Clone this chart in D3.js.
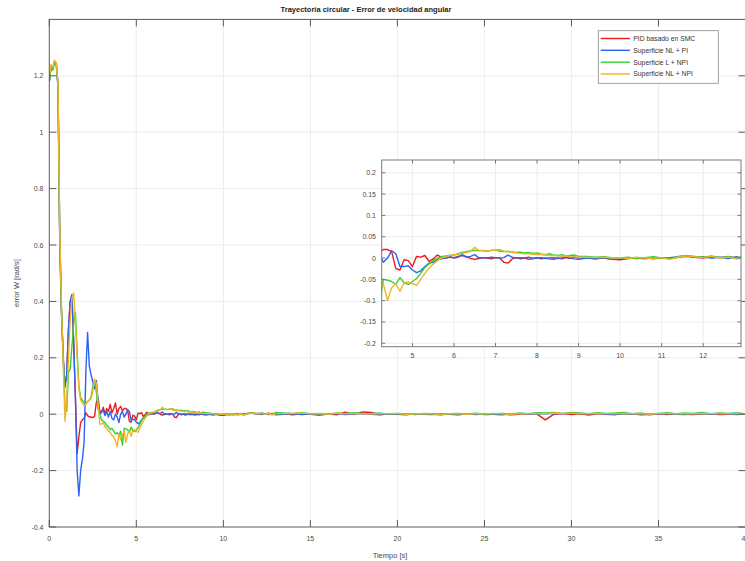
<!DOCTYPE html>
<html><head><meta charset="utf-8">
<script src="https://cdn.jsdelivr.net/npm/d3@7"></script>
<style>body{margin:0;background:#fff;} svg{display:block;font-family:"Liberation Sans",Arial,sans-serif;}</style>
</head><body><svg id="c" width="745" height="561"></svg>
<script>
// ---------- DATA ----------
const seriesNames = ["PID basado en SMC", "Superficie NL + PI", "Superficie L + NPI", "Superficie NL + NPI"];
const seriesColors = ["#ea1c1c", "#2e62f0", "#2fd22f", "#f0b428"];

// sample times (s): 0..4.2 step .1, 4.3..9 step .1, 9.2..13 step .2, 13.5..40 step .5
const time = [].concat(
  d3.range(0, 43).map(i => i / 10),
  d3.range(43, 91).map(i => i / 10),
  d3.range(46, 66).map(i => i / 5),
  d3.range(27, 81).map(i => i / 2)
);

const pidEarly = [1.18,1.23,1.225,1.25,1.245,1.16,0.62,0.36,0.2,0.1,
  0.14,0.3,0.4,0.42,0.25,0.06,-0.14,-0.08,-0.03,-0.02,
  -0.015,0.005,-0.005,-0.01,-0.01,-0.012,-0.008,0.04,0.06,0.01,
  0.005,0.025,0.0,0.02,0.01,0.035,0.005,0.02,0.04,0.0,
  0.02,0.028,0.012];
const pidMid = [0.02,0.02,0.015,-0.025,-0.028,-0.004,-0.006,-0.02,0.004,0.002,
  0.006,-0.008,-0.002,0.007,0.002,0.0,0.002,0.001,0.004,0.006,
  0.003,-0.001,-0.003,-0.001,0.001,0.0,-0.002,0.001,0.0,-0.01,
  -0.012,-0.002,0.001,-0.002,0.0,-0.003,-0.001,0.001,-0.002,0.0,
  -0.002,-0.003,0.0,-0.002,0.001,-0.001,0.002,0.0];
const pidLate = [0.001,-0.002,0.0,-0.003,-0.004,-0.001,0.0,-0.002,0.001,0.0,
  -0.001,0.002,0.004,0.002,0.0,0.003,0.001,0.004,-0.001,0.002];
const pidTail = [0.001,-0.002,0.002,0.0,-0.003,0.001,-0.002,0.007,0.0,0.008,
  0.006,-0.001,0.002,0.0,-0.002,0.001,0.0,-0.001,0.002,0.0,
  -0.002,0.001,0.002,-0.001,0.0,0.001,-0.002,0.0,0.002,0.001,
  -0.02,0.0,0.002,-0.001,0.001,-0.003,0.002,0.0,-0.001,0.002,
  0.001,-0.002,0.0,0.001,-0.001,0.002,0.0,-0.001,0.001,0.002,
  -0.001,0.0,0.002,0.001];

const nlpiEarly = [1.18,1.23,1.225,1.25,1.245,1.16,0.62,0.36,0.2,0.095,
  0.14,0.3,0.4,0.425,0.26,0.06,-0.2,-0.29,-0.2,-0.16,
  -0.1,0.15,0.29,0.17,0.14,0.115,0.09,0.12,0.05,0.0,
  0.012,0.015,-0.005,0.01,-0.01,0.01,-0.015,-0.02,0.0,-0.01,
  -0.03,0.0,0.01];
const nlpiMid = [-0.01,0.0,0.017,0.01,-0.02,-0.02,-0.018,-0.028,-0.034,-0.03,
  -0.02,-0.012,-0.01,-0.004,-0.002,0.0,0.003,0.0,0.002,0.008,
  0.002,0.004,0.008,0.0,0.001,0.0,0.002,0.001,0.0,0.001,
  0.007,0.002,0.0,0.001,0.0,0.002,-0.001,0.0,0.001,-0.001,
  0.0,0.001,-0.001,0.0,0.002,0.0,-0.002,-0.003];
const nlpiLate = [0.0,-0.002,0.001,-0.003,-0.002,0.0,-0.001,0.001,-0.002,0.0,
  0.001,0.003,0.005,0.002,0.003,0.0,0.002,-0.001,0.003,-0.002];
const nlpiTail = [0.0,0.002,-0.001,0.001,-0.002,0.0,0.003,-0.001,0.001,0.002,
  0.0,-0.002,0.001,0.0,0.002,-0.001,0.001,0.0,-0.002,0.001,
  0.0,0.002,-0.001,0.001,0.0,-0.002,0.001,0.003,0.0,0.002,
  0.001,0.003,0.002,0.004,0.002,0.001,0.003,0.0,-0.001,0.002,
  0.0,0.001,-0.002,0.001,0.002,0.0,-0.001,0.001,0.002,0.0,
  0.003,0.001,-0.001,0.002];

const lnpiEarly = [1.18,1.235,1.22,1.25,1.24,1.17,0.64,0.38,0.2,0.03,
  0.01,0.15,0.16,0.24,0.32,0.36,0.22,0.1,0.06,0.05,
  0.04,0.04,0.045,0.05,0.06,0.1,0.12,0.08,0.02,0.0,
  -0.02,-0.025,-0.03,-0.04,-0.045,-0.055,-0.05,-0.06,-0.07,-0.065,
  -0.075,-0.06,-0.11];
const lnpiMid = [-0.05,-0.052,-0.055,-0.062,-0.046,-0.058,-0.062,-0.055,-0.048,-0.036,
  -0.022,-0.014,-0.006,-0.001,0.003,0.005,0.006,0.007,0.01,0.013,
  0.015,0.017,0.018,0.017,0.018,0.016,0.018,0.019,0.016,0.015,
  0.016,0.014,0.013,0.014,0.012,0.013,0.011,0.012,0.009,0.008,
  0.01,0.007,0.006,0.008,0.005,0.006,0.007,0.004];
const lnpiLate = [0.004,0.002,0.003,0.001,0.0,0.002,-0.001,0.001,0.003,0.0,
  -0.002,0.004,0.006,0.004,0.002,0.005,0.001,0.003,0.0,0.006];
const lnpiTail = [0.004,0.003,0.005,0.002,0.003,0.001,0.004,0.002,0.005,0.003,
  0.002,0.004,0.001,0.003,0.002,0.0,0.003,0.002,-0.001,0.002,
  0.003,0.001,0.004,0.0,0.002,0.003,0.001,0.004,0.002,0.005,
  0.004,0.006,0.003,0.005,0.004,0.002,0.005,0.003,0.004,0.006,
  0.002,0.004,0.001,0.003,0.005,0.002,0.004,0.003,0.006,0.002,
  0.004,0.003,0.005,0.002];

const nlnpiEarly = [1.19,1.24,1.23,1.255,1.245,1.17,0.65,0.38,0.18,-0.025,
  0.05,0.2,0.33,0.41,0.43,0.33,0.2,0.09,0.05,0.04,
  0.03,0.035,0.045,0.05,0.055,0.08,0.125,0.11,0.04,-0.035,
  -0.035,-0.03,-0.045,-0.05,-0.06,-0.065,-0.075,-0.08,-0.095,-0.115,
  -0.07,-0.09,-0.075];
const nlnpiMid = [-0.06,-0.1,-0.07,-0.06,-0.078,-0.058,-0.056,-0.06,-0.064,-0.05,
  -0.036,-0.024,-0.014,-0.006,0.0,0.003,0.006,0.007,0.009,0.011,
  0.013,0.016,0.025,0.018,0.017,0.016,0.018,0.019,0.02,0.016,
  0.015,0.013,0.012,0.011,0.01,0.01,0.009,0.008,0.008,0.007,
  0.006,0.006,0.005,0.004,0.005,0.003,0.003,0.002];
const nlnpiLate = [0.002,0.001,0.002,0.0,0.001,-0.001,0.002,0.0,-0.001,0.001,
  -0.003,0.002,0.005,0.003,0.001,0.004,0.0,0.002,-0.002,0.001];
const nlnpiTail = [0.003,0.002,0.004,0.001,0.002,0.0,0.003,0.002,0.003,0.001,
  0.002,0.001,0.003,0.002,0.0,0.001,0.002,0.001,0.0,0.002,
  0.001,0.0,0.002,0.001,0.003,0.001,0.0,0.002,0.001,0.003,
  0.002,0.004,0.003,0.003,0.002,0.001,0.003,0.002,0.001,0.003,
  0.001,0.002,0.0,0.002,0.003,0.001,0.002,0.001,0.003,0.002,
  0.002,0.001,0.003,0.002];

const pid = [...pidEarly, ...pidMid, ...pidLate, ...pidTail];
const nlpi = [...nlpiEarly, ...nlpiMid, ...nlpiLate, ...nlpiTail];
const lnpi = [...lnpiEarly, ...lnpiMid, ...lnpiLate, ...lnpiTail];
const nlnpi = [...nlnpiEarly, ...nlnpiMid, ...nlnpiLate, ...nlnpiTail];
const seriesValues = [pid, nlpi, lnpi, nlnpi];

const xTicks = [0,5,10,15,20,25,30,35,40];
const xTickLabels = ["0","5","10","15","20","25","30","35","40"];
const yTicks = [-0.4,-0.2,0,0.2,0.4,0.6,0.8,1,1.2];
const yTickLabels = ["-0.4","-0.2","0","0.2","0.4","0.6","0.8","1","1.2"];
const insetXTicks = [5,6,7,8,9,10,11,12];
const insetXTickLabels = ["5","6","7","8","9","10","11","12"];
const insetYTicks = [-0.2,-0.15,-0.1,-0.05,0,0.05,0.1,0.15,0.2];
const insetYTickLabels = ["-0.2","-0.15","-0.1","-0.05","0","0.05","0.1","0.15","0.2"];

const titleText = "Trayectoria circular - Error de velocidad angular";
const xLabelText = "Tiempo [s]";
const yLabelText = "error W [rad/s]";

// ---------- DRAW ----------
const svg = d3.select("#c");
const axisColor = "#5a5a5a", gridColor = "#e8e8e8", textColor = "#4a4a4a";
const M = {left: 49.3, right: 745.5, top: 19.4, bottom: 527};
const x = d3.scaleLinear().domain([0, 40]).range([M.left, M.right]);
const y = d3.scaleLinear().domain([-0.4, 1.4]).range([M.bottom, M.top]);

const defs = svg.append("defs");
defs.append("clipPath").attr("id", "mainClip").append("rect")
  .attr("x", M.left).attr("y", M.top).attr("width", M.right - M.left).attr("height", M.bottom - M.top);

// grid
const g = svg.append("g");
g.selectAll(".vg").data(xTicks.slice(1, -1)).enter().append("line")
  .attr("x1", d => x(d)).attr("x2", d => x(d)).attr("y1", M.top).attr("y2", M.bottom)
  .attr("stroke", gridColor).attr("stroke-width", 0.8);
g.selectAll(".hg").data(yTicks.slice(1)).enter().append("line")
  .attr("x1", M.left).attr("x2", M.right).attr("y1", d => y(d)).attr("y2", d => y(d))
  .attr("stroke", gridColor).attr("stroke-width", 0.8);

// main lines
const lineMain = d3.line().x((d, i) => x(time[i])).y(d => y(d));
const lg = svg.append("g").attr("clip-path", "url(#mainClip)");
seriesValues.forEach((vals, k) => {
  lg.append("path").attr("d", lineMain(vals)).attr("fill", "none")
    .attr("stroke", seriesColors[k]).attr("stroke-width", 1.4).attr("stroke-linejoin", "round");
});

// frame & ticks
const fr = svg.append("g").attr("stroke", axisColor).attr("stroke-width", 1).attr("fill", "none");
fr.append("rect").attr("x", M.left).attr("y", M.top).attr("width", M.right - M.left).attr("height", M.bottom - M.top);
const tl = 7;
xTicks.forEach(t => {
  fr.append("line").attr("x1", x(t)).attr("x2", x(t)).attr("y1", M.bottom).attr("y2", M.bottom - tl);
  fr.append("line").attr("x1", x(t)).attr("x2", x(t)).attr("y1", M.top).attr("y2", M.top + tl);
});
yTicks.forEach(t => {
  fr.append("line").attr("x1", M.left).attr("x2", M.left + tl).attr("y1", y(t)).attr("y2", y(t));
  fr.append("line").attr("x1", M.right).attr("x2", M.right - tl).attr("y1", y(t)).attr("y2", y(t));
});

// tick labels
const tg = svg.append("g").attr("fill", textColor).attr("font-size", 7);
xTicks.forEach((t, i) => {
  tg.append("text").attr("x", x(t)).attr("y", 541).attr("text-anchor", "middle").text(xTickLabels[i]);
});
yTicks.forEach((t, i) => {
  tg.append("text").attr("x", 43.5).attr("y", y(t) + 2.5).attr("text-anchor", "end").text(yTickLabels[i]);
});

// labels & title
svg.append("text").attr("x", 366).attr("y", 12).attr("text-anchor", "middle")
  .attr("font-size", 7.5).attr("font-weight", "bold").attr("fill", "#222").text(titleText);
svg.append("text").attr("x", 390).attr("y", 557.5).attr("text-anchor", "middle")
  .attr("font-size", 7.5).attr("fill", textColor).text(xLabelText);
svg.append("text").attr("transform", "translate(19,283) rotate(-90)").attr("text-anchor", "middle")
  .attr("font-size", 7.5).attr("fill", textColor).text(yLabelText);

// ---------- INSET ----------
const I = {left: 381.7, right: 741, top: 160, bottom: 346.7};
const xi = d3.scaleLinear().domain([4.26, 12.91]).range([I.left, I.right]);
const yi = d3.scaleLinear().domain([-0.208, 0.23]).range([I.bottom, I.top]);
defs.append("clipPath").attr("id", "insetClip").append("rect")
  .attr("x", I.left).attr("y", I.top).attr("width", I.right - I.left).attr("height", I.bottom - I.top);

const ig = svg.append("g");
ig.append("rect").attr("x", I.left).attr("y", I.top).attr("width", I.right - I.left).attr("height", I.bottom - I.top)
  .attr("fill", "#fff");
ig.selectAll(".ivg").data(insetXTicks).enter().append("line")
  .attr("x1", d => xi(d)).attr("x2", d => xi(d)).attr("y1", I.top).attr("y2", I.bottom)
  .attr("stroke", gridColor).attr("stroke-width", 0.8);
ig.selectAll(".ihg").data(insetYTicks).enter().append("line")
  .attr("x1", I.left).attr("x2", I.right).attr("y1", d => yi(d)).attr("y2", d => yi(d))
  .attr("stroke", gridColor).attr("stroke-width", 0.8);

const lineInset = d3.line().x((d, i) => xi(time[i])).y(d => yi(d));
const ilg = ig.append("g").attr("clip-path", "url(#insetClip)");
seriesValues.forEach((vals, k) => {
  ilg.append("path").attr("d", lineInset(vals)).attr("fill", "none")
    .attr("stroke", seriesColors[k]).attr("stroke-width", 1.4).attr("stroke-linejoin", "round");
});

const ifr = ig.append("g").attr("stroke", "#7a7a7a").attr("stroke-width", 1).attr("fill", "none");
ifr.append("rect").attr("x", I.left).attr("y", I.top).attr("width", I.right - I.left).attr("height", I.bottom - I.top);
const itl = 3.6;
insetXTicks.forEach(t => {
  ifr.append("line").attr("x1", xi(t)).attr("x2", xi(t)).attr("y1", I.bottom).attr("y2", I.bottom - itl);
  ifr.append("line").attr("x1", xi(t)).attr("x2", xi(t)).attr("y1", I.top).attr("y2", I.top + itl);
});
insetYTicks.forEach(t => {
  ifr.append("line").attr("x1", I.left).attr("x2", I.left + itl).attr("y1", yi(t)).attr("y2", yi(t));
  ifr.append("line").attr("x1", I.right).attr("x2", I.right - itl).attr("y1", yi(t)).attr("y2", yi(t));
});
const itg = ig.append("g").attr("fill", textColor).attr("font-size", 7);
insetXTicks.forEach((t, i) => {
  itg.append("text").attr("x", xi(t)).attr("y", 358).attr("text-anchor", "middle").text(insetXTickLabels[i]);
});
insetYTicks.forEach((t, i) => {
  itg.append("text").attr("x", 376).attr("y", yi(t) + 2.5).attr("text-anchor", "end").text(insetYTickLabels[i]);
});

// ---------- LEGEND ----------
const L = {x: 598.3, y: 30.7, w: 120, h: 52.6};
const leg = svg.append("g");
leg.append("rect").attr("x", L.x).attr("y", L.y).attr("width", L.w).attr("height", L.h)
  .attr("fill", "#fff").attr("stroke", "#8a8a8a").attr("stroke-width", 0.8);
const legY = [38.5, 50.3, 62.2, 74];
seriesNames.forEach((name, k) => {
  leg.append("line").attr("x1", 600.7).attr("x2", 630).attr("y1", legY[k]).attr("y2", legY[k])
    .attr("stroke", seriesColors[k]).attr("stroke-width", 1.4);
  leg.append("text").attr("x", 633.3).attr("y", legY[k] + 2.4).attr("font-size", 6.8)
    .attr("fill", "#333").text(name);
});
</script></body></html>
